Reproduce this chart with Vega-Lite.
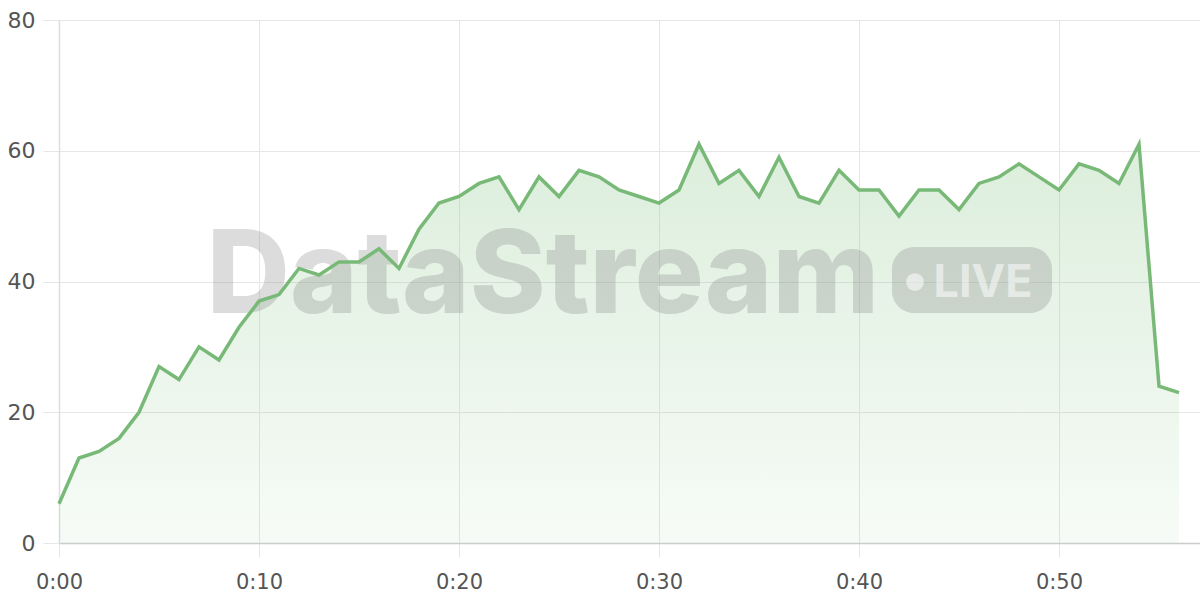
{
  "$schema": "https://vega.github.io/schema/vega-lite/v6.json",
  "autosize": {"type": "none"},
  "padding": {"left": 59, "top": 20, "right": 0, "bottom": 57},
  "width": 1141,
  "height": 523,
  "background": "white",
  "config": {
    "font": "DejaVu Sans",
    "view": {"stroke": null},
    "axis": {
      "labelFont": "DejaVu Sans",
      "labelColor": "#555555",
      "labelFlush": false,
      "gridColor": "#e6e6e6",
      "gridWidth": 1,
      "tickColor": "#e6e6e6",
      "domainColor": "#cccccc",
      "domainWidth": 1.5,
      "title": null
    }
  },
  "datasets": {
    "series": [
      {"minute": 0, "value": 6}, {"minute": 1, "value": 13}, {"minute": 2, "value": 14},
      {"minute": 3, "value": 16}, {"minute": 4, "value": 20}, {"minute": 5, "value": 27},
      {"minute": 6, "value": 25}, {"minute": 7, "value": 30}, {"minute": 8, "value": 28},
      {"minute": 9, "value": 33}, {"minute": 10, "value": 37}, {"minute": 11, "value": 38},
      {"minute": 12, "value": 42}, {"minute": 13, "value": 41}, {"minute": 14, "value": 43},
      {"minute": 15, "value": 43}, {"minute": 16, "value": 45}, {"minute": 17, "value": 42},
      {"minute": 18, "value": 48}, {"minute": 19, "value": 52}, {"minute": 20, "value": 53},
      {"minute": 21, "value": 55}, {"minute": 22, "value": 56}, {"minute": 23, "value": 51},
      {"minute": 24, "value": 56}, {"minute": 25, "value": 53}, {"minute": 26, "value": 57},
      {"minute": 27, "value": 56}, {"minute": 28, "value": 54}, {"minute": 29, "value": 53},
      {"minute": 30, "value": 52}, {"minute": 31, "value": 54}, {"minute": 32, "value": 61},
      {"minute": 33, "value": 55}, {"minute": 34, "value": 57}, {"minute": 35, "value": 53},
      {"minute": 36, "value": 59}, {"minute": 37, "value": 53}, {"minute": 38, "value": 52},
      {"minute": 39, "value": 57}, {"minute": 40, "value": 54}, {"minute": 41, "value": 54},
      {"minute": 42, "value": 50}, {"minute": 43, "value": 54}, {"minute": 44, "value": 54},
      {"minute": 45, "value": 51}, {"minute": 46, "value": 55}, {"minute": 47, "value": 56},
      {"minute": 48, "value": 58}, {"minute": 49, "value": 56}, {"minute": 50, "value": 54},
      {"minute": 51, "value": 58}, {"minute": 52, "value": 57}, {"minute": 53, "value": 55},
      {"minute": 54, "value": 61}, {"minute": 55, "value": 24}, {"minute": 56, "value": 23}
    ],
    "watermark": [{"brand": "DataStream", "badge": "LIVE"}]
  },
  "layer": [
    {
      "data": {"name": "series"},
      "mark": {
        "type": "area",
        "color": {
          "gradient": "linear",
          "x1": 1, "y1": 1, "x2": 1, "y2": 0,
          "stops": [
            {"offset": 0, "color": "rgba(120,190,120,0.06)"},
            {"offset": 1, "color": "rgba(120,190,120,0.26)"}
          ]
        }
      },
      "encoding": {
        "x": {
          "field": "minute",
          "type": "quantitative",
          "scale": {"domain": [0, 57.05], "nice": false, "zero": false},
          "axis": {
            "values": [0, 10, 20, 30, 40, 50],
            "labelExpr": "'0:' + (datum.value < 10 ? '0' : '') + datum.value",
            "labelFontSize": 21,
            "tickSize": 14,
            "labelPadding": 14,
            "domainColor": "#cccccc"
          }
        },
        "y": {
          "field": "value",
          "type": "quantitative",
          "scale": {"domain": [0, 80], "nice": false},
          "axis": {
            "values": [0, 20, 40, 60, 80],
            "labelFontSize": 22,
            "tickSize": 16,
            "labelPadding": 8,
            "domainColor": "#dddddd"
          }
        }
      }
    },
    {
      "data": {"name": "watermark"},
      "mark": {
        "type": "text",
        "font": "Inter",
        "fontWeight": 800,
        "fontSize": 115,
        "align": "center",
        "baseline": "alphabetic",
        "fill": "#808080",
        "fillOpacity": 0.28
      },
      "encoding": {
        "text": {"field": "brand"},
        "x": {"datum": 24.2, "type": "quantitative"},
        "y": {"datum": 35.18, "type": "quantitative"}
      }
    },
    {
      "data": {"name": "watermark"},
      "mark": {
        "type": "rect",
        "cornerRadius": 22,
        "fill": "#808080",
        "fillOpacity": 0.28
      },
      "encoding": {
        "x": {"datum": 41.65, "type": "quantitative"},
        "x2": {"datum": 49.65},
        "y": {"datum": 45.28, "type": "quantitative"},
        "y2": {"datum": 35.18}
      }
    },
    {
      "data": {"name": "watermark"},
      "mark": {
        "type": "point",
        "shape": "circle",
        "filled": true,
        "size": 314,
        "fill": "#ffffff",
        "fillOpacity": 0.55,
        "strokeWidth": 0
      },
      "encoding": {
        "x": {"datum": 42.8, "type": "quantitative"},
        "y": {"datum": 39.92, "type": "quantitative"}
      }
    },
    {
      "data": {"name": "watermark"},
      "mark": {
        "type": "text",
        "font": "Inter",
        "fontWeight": 700,
        "fontSize": 45,
        "align": "center",
        "baseline": "alphabetic",
        "fill": "#ffffff",
        "fillOpacity": 0.55
      },
      "encoding": {
        "text": {"field": "badge"},
        "x": {"datum": 46.2, "type": "quantitative"},
        "y": {"datum": 37.63, "type": "quantitative"}
      }
    },
    {
      "data": {"name": "series"},
      "mark": {
        "type": "line",
        "color": "#78b978",
        "strokeWidth": 3.5,
        "strokeJoin": "miter"
      },
      "encoding": {
        "x": {"field": "minute", "type": "quantitative"},
        "y": {"field": "value", "type": "quantitative"}
      }
    }
  ]
}
